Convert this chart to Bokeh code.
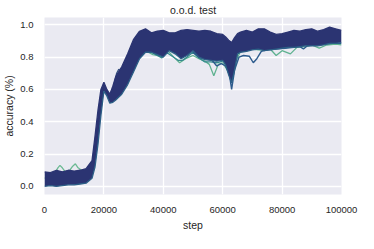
from bokeh.plotting import figure
from bokeh.models import Range1d, FixedTicker
from bokeh.embed import file_html
from bokeh.resources import INLINE

# ---- data ----
steps = [0, 2000, 4000, 6000, 8000, 10000, 12000, 14000, 16000, 17000, 18000, 19000,
         20000, 21000, 22000, 23000, 24000, 26000, 28000, 30000, 32000, 34000, 36000,
         38000, 40000, 42000, 44000, 46000, 48000, 50000, 52000, 54000, 56000, 58000,
         60000, 61000, 62000, 63000, 64000, 65000, 66000, 68000, 70000, 72000, 74000,
         76000, 78000, 80000, 82000, 84000, 86000, 88000, 90000, 92000, 94000, 96000,
         98000, 100000]
band_upper = [0.09, 0.085, 0.10, 0.09, 0.10, 0.095, 0.10, 0.11, 0.16, 0.31, 0.47, 0.60,
              0.645, 0.60, 0.57, 0.62, 0.68, 0.74, 0.82, 0.91, 0.96, 0.975, 0.95,
              0.96, 0.965, 0.95, 0.95, 0.965, 0.97, 0.965, 0.96, 0.965, 0.96, 0.945,
              0.94, 0.925, 0.905, 0.89, 0.92, 0.945, 0.955, 0.965, 0.955, 0.975, 0.975,
              0.955, 0.94, 0.945, 0.955, 0.965, 0.96, 0.97, 0.975, 0.96, 0.97, 0.985,
              0.975, 0.965]
band_lower = [0.0, 0.005, 0.0, 0.005, 0.01, 0.01, 0.015, 0.02, 0.05, 0.12, 0.26, 0.44,
              0.59, 0.56, 0.515, 0.52, 0.535, 0.57, 0.63, 0.71, 0.79, 0.83, 0.83,
              0.815, 0.80, 0.84, 0.82, 0.79, 0.81, 0.84, 0.80, 0.785, 0.78, 0.775,
              0.78, 0.75, 0.69, 0.64, 0.72, 0.82, 0.83, 0.835, 0.845, 0.85, 0.84,
              0.845, 0.85, 0.855, 0.86, 0.86, 0.865, 0.87, 0.87, 0.87, 0.875, 0.885,
              0.885, 0.89]

early_steps = [0, 2000, 3500, 4500, 5200, 6000, 7000, 8500, 9500, 10400, 11300, 12500, 14000, 15500]
early_green = [0.05, 0.07, 0.08, 0.115, 0.13, 0.115, 0.09, 0.10, 0.125, 0.14, 0.115, 0.10, 0.09, 0.09]

late_steps = [30000, 32000, 34000, 36500, 39500, 41500, 43500, 45500, 47500, 50000, 52000,
              54000, 55500, 57000, 58500, 60000, 61500, 63000, 64500, 66000, 68000, 70000,
              72000, 74000, 76000, 78000, 80000, 82800, 85000, 88000, 90000, 92500, 95000,
              98000, 100000]
late_green = [0.72, 0.80, 0.84, 0.815, 0.805, 0.84, 0.80, 0.765, 0.79, 0.81, 0.79,
              0.775, 0.755, 0.685, 0.755, 0.765, 0.72, 0.66, 0.78, 0.835, 0.845, 0.85,
              0.845, 0.845, 0.85, 0.81, 0.84, 0.82, 0.86, 0.865, 0.875, 0.855, 0.875,
              0.88, 0.875]

teal_steps = [34000, 36000, 38000, 39500, 41000, 43000, 45000, 46500, 48000, 50000, 52000,
              54000, 56000, 58000, 60000]
teal_vals = [0.835, 0.83, 0.81, 0.795, 0.83, 0.805, 0.78, 0.78, 0.80, 0.83, 0.795,
             0.77, 0.77, 0.765, 0.775]

blue_steps = [50000, 52000, 54000, 56000, 58000, 59500, 61000, 62200, 63000, 64000, 65500,
              67000, 69000, 70300, 71500, 73000, 75000, 78000, 81000, 84000, 86000, 87200,
              88500, 91000, 94000, 97000, 100000]
blue_vals = [0.83, 0.80, 0.79, 0.79, 0.745, 0.76, 0.745, 0.70, 0.60, 0.72, 0.80,
             0.81, 0.805, 0.765, 0.79, 0.835, 0.845, 0.85, 0.855, 0.86, 0.865, 0.85,
             0.87, 0.875, 0.88, 0.885, 0.885]

bump_steps = [23000, 24300, 25000, 25600, 26500, 28000]
bump_vals = [0.60, 0.70, 0.725, 0.71, 0.745, 0.80]

x_ticks = [0, 20000, 40000, 60000, 80000, 100000]
x_tick_labels = ["0", "20000", "40000", "60000", "80000", "100000"]
y_ticks = [0.0, 0.2, 0.4, 0.6, 0.8, 1.0]
y_tick_labels = ["0.0", "0.2", "0.4", "0.6", "0.8", "1.0"]

TXT = "#262626"
FONT = "Liberation Sans"
NAVY = "#2b3472"

p = figure(width=358, height=233, output_backend="svg", toolbar_location=None,
           title="o.o.d. test",
           x_range=Range1d(0, 100000), y_range=Range1d(-0.05, 1.045),
           min_border_left=31, min_border_right=17, min_border_top=4, min_border_bottom=32)
p.title.align = "center"
p.title.text_font = FONT
p.title.text_font_size = "10.5px"
p.title.text_font_style = "normal"
p.title.text_color = TXT
p.title.standoff = 3
p.title.offset = 0

p.background_fill_color = "#EAEAF2"
p.border_fill_color = "white"
p.outline_line_color = None

for g in (p.xgrid, p.ygrid):
    g.grid_line_color = "white"
    g.grid_line_width = 1.3
p.xgrid.ticker = FixedTicker(ticks=x_ticks)
p.ygrid.ticker = FixedTicker(ticks=y_ticks)

p.xaxis.ticker = FixedTicker(ticks=x_ticks)
p.xaxis.major_label_overrides = {t: s for t, s in zip(x_ticks, x_tick_labels)}
p.yaxis.ticker = FixedTicker(ticks=y_ticks)
p.yaxis.major_label_overrides = {t: s for t, s in zip(y_ticks, y_tick_labels)}

for ax in (p.xaxis, p.yaxis):
    ax.axis_line_color = None
    ax.major_tick_line_color = None
    ax.minor_tick_line_color = None
    ax.major_label_text_font = FONT
    ax.major_label_text_font_size = "9.5px"
    ax.major_label_text_color = TXT
    ax.axis_label_text_font = FONT
    ax.axis_label_text_font_size = "10.5px"
    ax.axis_label_text_font_style = "normal"
    ax.axis_label_text_color = TXT
p.xaxis.axis_label = "step"
p.yaxis.axis_label = "accuracy (%)"
p.xaxis.major_label_standoff = 6
p.xaxis.axis_label_standoff = 3
p.yaxis.major_label_standoff = 5
p.yaxis.axis_label_standoff = 2

# outlier runs (drawn beneath the dense band)
p.line(early_steps, early_green, line_color="#6cba93", line_width=1.3)
p.line(late_steps, late_green, line_color="#5fb290", line_width=1.3)
p.line(teal_steps, teal_vals, line_color="#358a8d", line_width=1.3)
p.line(blue_steps, blue_vals, line_color="#2d5b8d", line_width=1.4)
p.line(bump_steps, bump_vals, line_color="#34507f", line_width=1.3)

# dense band of runs
p.varea(x=steps, y1=band_lower, y2=band_upper, fill_color=NAVY, fill_alpha=1.0)
p.line(steps, band_lower, line_color="#2c5f86", line_width=1.3)
p.line(steps, band_upper, line_color=NAVY, line_width=1.3)

open("out.html", "w").write(file_html(p, INLINE))
